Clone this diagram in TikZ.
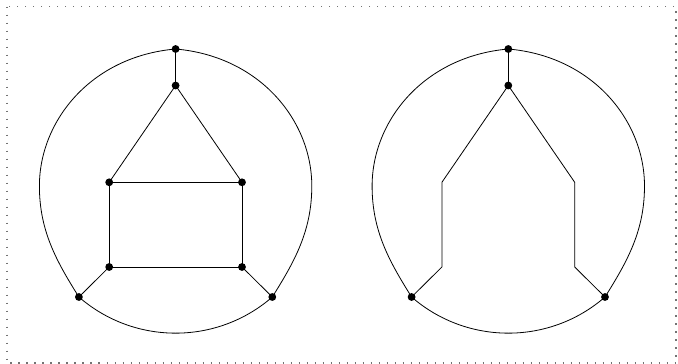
\documentclass[tikz,border=0pt]{standalone}
\begin{document}
\begin{tikzpicture}[x=1pt,y=-1pt,
  edge/.style={line width=0.8pt, black},
  dot/.style={circle, fill=black, inner sep=0pt, minimum size=7.8pt},
  frame/.style={draw=black!55, line width=1.4pt, dash pattern=on 1.4pt off 6.6pt}]
\useasboundingbox (0,0) rectangle (678,364);
\draw[frame] (7,6.5) rectangle (676,363);

% ---------- left graph ----------
\coordinate (T1) at (175.6,49);
\coordinate (A1) at (175.6,85.5);
\coordinate (PL1) at (39.4,186);
\coordinate (PR1) at (311.8,186);
\coordinate (L1) at (78.9,297);
\coordinate (R1) at (272.3,297);
\coordinate (B1) at (109.2,182.3);
\coordinate (C1) at (242.0,182.3);
\coordinate (D1) at (109.2,267);
\coordinate (E1) at (242.0,267);

\draw[edge] (T1) .. controls +(-84.7,7.4) and +(0,-65) .. (PL1)
  .. controls +(0,45) and +(-22.3,-35.6) .. (L1)
  .. controls +(55.4,48.2) and +(-55.4,48.2) .. (R1)
  .. controls +(22.3,-35.6) and +(0,45) .. (PR1)
  .. controls +(0,-65) and +(84.7,7.4) .. (T1);
\draw[edge] (T1) -- (A1);
\draw[edge] (A1) -- (B1);
\draw[edge] (A1) -- (C1);
\draw[edge] (B1) -- (C1);
\draw[edge] (B1) -- (D1);
\draw[edge] (C1) -- (E1);
\draw[edge] (D1) -- (E1);
\draw[edge] (D1) -- (L1);
\draw[edge] (E1) -- (R1);

% ---------- right graph ----------
\coordinate (T2) at (508.3,49);
\coordinate (A2) at (508.3,85.5);
\coordinate (PL2) at (372.1,186);
\coordinate (PR2) at (644.5,186);
\coordinate (L2) at (411.6,297);
\coordinate (R2) at (605.0,297);
\coordinate (B2) at (441.9,182.3);
\coordinate (C2) at (574.7,182.3);
\coordinate (D2) at (441.9,267);
\coordinate (E2) at (574.7,267);

\draw[edge] (T2) .. controls +(-84.7,7.4) and +(0,-65) .. (PL2)
  .. controls +(0,45) and +(-22.3,-35.6) .. (L2)
  .. controls +(55.4,48.2) and +(-55.4,48.2) .. (R2)
  .. controls +(22.3,-35.6) and +(0,45) .. (PR2)
  .. controls +(0,-65) and +(84.7,7.4) .. (T2);
\draw[edge] (T2) -- (A2);
\draw[edge] (A2) -- (B2) -- (D2) -- (L2);
\draw[edge] (A2) -- (C2) -- (E2) -- (R2);

% ---------- dots ----------
\foreach \n in {T1,A1,B1,C1,D1,E1,L1,R1,T2,A2,L2,R2}
  \node[dot] (dot\n) at (\n) {};
\end{tikzpicture}
\end{document}
